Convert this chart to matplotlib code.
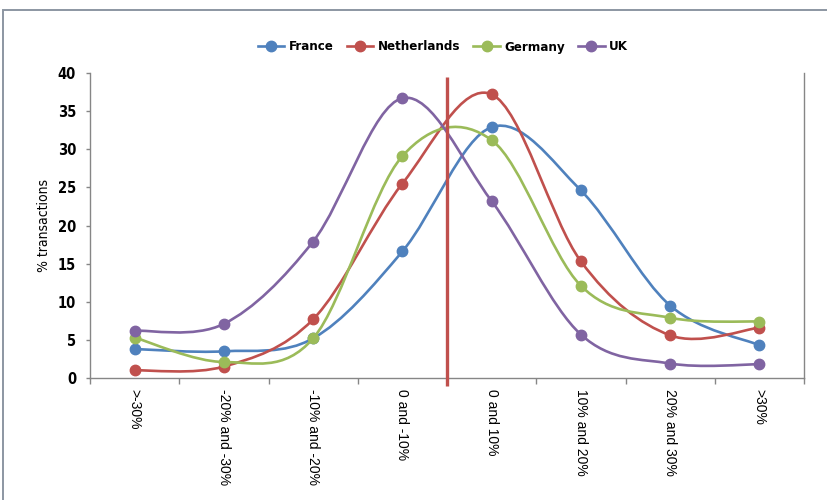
import matplotlib
matplotlib.use('Agg')
import matplotlib.pyplot as plt
from matplotlib.path import Path
from matplotlib.patches import PathPatch, Rectangle
from matplotlib.lines import Line2D
from matplotlib.font_manager import FontProperties

# price change bands and share of transactions per country (%)
categories = ['>-30%', '-20% and -30%', '-10% and -20%', '0 and -10%',
              '0 and 10%', '10% and 20%', '20% and 30%', '>30%']
france = [3.8, 3.5, 5.2, 16.6, 32.9, 24.6, 9.5, 4.3]
netherlands = [1.0, 1.5, 7.7, 25.5, 37.2, 15.3, 5.6, 6.6]
germany = [5.3, 2.1, 5.2, 29.1, 31.2, 12.1, 7.9, 7.4]
uk = [6.2, 7.1, 17.9, 36.7, 23.2, 5.7, 1.9, 1.8]

series = [('France', france, '#4F81BD'),
          ('Netherlands', netherlands, '#C0504D'),
          ('Germany', germany, '#9BBB59'),
          ('UK', uk, '#8064A2')]

plain = ['Liberation Sans', 'DejaVu Sans']
axis_grey = '#868686'


def narrow(size, weight='bold'):
    return FontProperties(family='DejaVu Sans', stretch='condensed',
                          weight=weight, size=size)


def smooth_path(xs, ys):
    # cubic bezier through every point, catmull-rom style tangents
    pts = list(zip(xs, ys))
    n = len(pts)
    verts = [pts[0]]
    codes = [Path.MOVETO]
    for i in range(n - 1):
        p0 = pts[i - 1] if i > 0 else pts[i]
        p1 = pts[i]
        p2 = pts[i + 1]
        p3 = pts[i + 2] if i + 2 < n else pts[i + 1]
        c1 = (p1[0] + (p2[0] - p0[0]) / 6, p1[1] + (p2[1] - p0[1]) / 6)
        c2 = (p2[0] - (p3[0] - p1[0]) / 6, p2[1] - (p3[1] - p1[1]) / 6)
        verts += [c1, c2, p2]
        codes += [Path.CURVE4] * 3
    return Path(verts, codes)


fig = plt.figure(figsize=(8.27, 5.0), dpi=100)
ax = fig.add_axes([90 / 827, 1 - 378 / 500, 714 / 827, 305 / 500])

# outer frame
fig.patches.append(Rectangle((3 / 827, -0.05), 1.1, 1 - 10 / 500 + 0.05,
                             transform=fig.transFigure, fill=False,
                             ec='#8c96a2', lw=1.4, zorder=0))

xs = list(range(len(categories)))
handles = []
for i, (name, vals, col) in enumerate(series):
    ax.add_patch(PathPatch(smooth_path(xs, vals), fill=False, ec=col,
                           lw=1.9, zorder=2 + i, capstyle='round'))
    ax.plot(xs, vals, 'o', ls='none', color=col, ms=7.5, zorder=2 + i)
    handles.append(Line2D([0], [0], color=col, lw=1.9, marker='o', ms=7.5))

# divider between falls and rises
ax.plot([3.5, 3.5], [-1.0, 39.5], color='#C0504D', lw=2.4, zorder=10,
        clip_on=False, solid_capstyle='butt')

ax.set_xlim(-0.5, 7.5)
ax.set_ylim(0, 40)
ax.set_yticks(range(0, 41, 5))
ax.set_xticks(xs)
ax.set_xticks([x - 0.5 for x in range(len(categories) + 1)], minor=True)
ax.set_xticklabels(categories, rotation=-90, va='top', ha='center',
                   family=plain, fontsize=10)
ax.tick_params(axis='x', which='major', length=0, pad=8)
ax.tick_params(axis='x', which='minor', length=4, color=axis_grey, width=1)
ax.tick_params(axis='y', length=3, color=axis_grey, width=1, pad=7)
for lbl in ax.get_yticklabels():
    lbl.set_fontproperties(narrow(10.5))

for side in ['left', 'bottom', 'right']:
    ax.spines[side].set_color(axis_grey)
    ax.spines[side].set_linewidth(1)
ax.spines['top'].set_visible(False)

ax.set_ylabel('% transactions', fontproperties=narrow(10, 'normal'),
              labelpad=5)

fig.legend(handles, [s[0] for s in series], loc='center',
           bbox_to_anchor=(443 / 827, 1 - 47 / 500), ncol=4, frameon=False,
           prop=narrow(9.5),
           handlelength=2.0, handletextpad=0.35, columnspacing=1.0,
           numpoints=1)

fig.savefig('out.png', dpi=100)
